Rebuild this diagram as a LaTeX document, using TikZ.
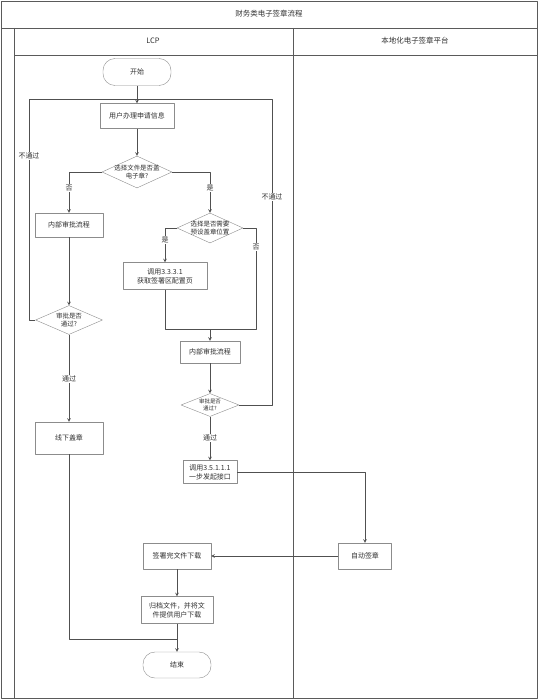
\documentclass[tikz,border=0pt]{standalone}
\usepackage{fontspec}
\setmainfont{Noto Sans CJK SC}
\usetikzlibrary{shapes.geometric}
\definecolor{framegray}{HTML}{5A5A5A}
\definecolor{boxgray}{HTML}{8C8C8C}
\definecolor{linegray}{HTML}{505050}
\definecolor{txtgray}{HTML}{303030}
\begin{document}
\begin{tikzpicture}[x=1bp,y=-1bp,>=stealth, font=\fontsize{7}{9}\selectfont, line join=round,
  box/.style={draw=boxgray, fill=white, text=txtgray, align=center, inner sep=1pt},
  term/.style={box, rounded corners=12bp},
  dec/.style={draw=boxgray, fill=white, diamond, inner sep=0pt},
  dectext/.style={text=txtgray, align=center, font=\fontsize{6.5}{8}\selectfont},
  conn/.style={draw=linegray, line width=.6pt},
  lbl/.style={fill=white, text=txtgray, inner sep=.5pt}]
\useasboundingbox (0,0) rectangle (539,700);
% pool and lanes
\draw[framegray, line width=.8pt] (1,1) rectangle (537,698);
\draw[framegray, line width=.8pt] (1,28) -- (537,28);
\draw[framegray, line width=.8pt] (14,28) -- (14,698);
\draw[framegray, line width=.8pt] (14,55) -- (537,55);
\draw[framegray, line width=.8pt] (293,28) -- (293,698);
\node[text=txtgray, font=\fontsize{7.5}{9}\selectfont] (title) at (269,14) {财务类电子签章流程};
\node[text=txtgray, font=\fontsize{7.5}{9}\selectfont] (lcp) at (153,41) {LCP};
\node[text=txtgray, font=\fontsize{7.5}{9}\selectfont] (platform) at (415,41) {本地化电子签章平台};
% nodes
\node[term, minimum width=68bp, minimum height=27bp] (start) at (137,72) {开始};
\node[box, minimum width=74bp, minimum height=25bp] (apply) at (137,116) {用户办理申请信息};
\node[dec, minimum width=70bp, minimum height=32bp, label={[dectext]center:选择文件是否盖\\电子章?}] (q1) at (137,172) {};
\node[box, minimum width=68bp, minimum height=24bp] (inner1) at (69,225) {内部审批流程};
\node[dec, minimum width=66bp, minimum height=30bp, label={[dectext]center:选择是否需要\\预设盖章位置}] (q2) at (210,228) {};
\node[box, minimum width=84bp, minimum height=27bp] (cfg) at (165,276) {调用3.3.3.1\\获取签署区配置页};
\node[box, minimum width=60bp, minimum height=22bp] (inner2) at (210,352) {内部审批流程};
\node[dec, minimum width=58bp, minimum height=23bp, label={[dectext, font=\fontsize{5.5}{6.5}\selectfont]center:审批是否\\通过?}] (q3) at (210,405) {};
\node[dec, minimum width=67bp, minimum height=29bp, label={[dectext]center:审批是否\\通过?}] (qL) at (69,320) {};
\node[box, minimum width=68bp, minimum height=32bp] (offline) at (69,438) {线下盖章};
\node[box, minimum width=54bp, minimum height=23bp] (call) at (210,472) {调用3.5.1.1.1\\一步发起接口};
\node[box, minimum width=53bp, minimum height=26bp] (auto) at (365,556) {自动签章};
\node[box, minimum width=68bp, minimum height=26bp] (down) at (177,556) {签署完文件下载};
\node[box, minimum width=72bp, minimum height=27bp] (archive) at (177,610) {归档文件，并将文\\件提供用户下载};
\node[term, minimum width=68bp, minimum height=26bp] (end) at (177,665) {结束};
\coordinate (join) at (137,99);
\coordinate (merge) at (210,329);
\coordinate (merge2) at (177,639);
% connectors
\draw[conn, ->] (start) -- (apply);
\draw[conn] (qL.west) -| (29,99) -- (join);
\draw[conn] (q3.east) -| (272,99) -- (join);
\draw[conn, ->] (apply) -- (q1);
\draw[conn, ->] (q1.west) -| (inner1.north);
\draw[conn, ->] (q1.east) -| (q2.north);
\draw[conn, ->] (q2.west) -| (cfg.north);
\draw[conn] (q2.east) -| (256,329) -- (merge);
\draw[conn] (cfg.south) |- (merge);
\draw[conn, ->] (merge) -- (inner2);
\draw[conn, ->] (inner2) -- (q3);
\draw[conn, ->] (q3) -- (call);
\draw[conn, ->] (inner1) -- (qL);
\draw[conn, ->] (qL) -- (offline);
\draw[conn, ->] (call.east) -| (auto.north);
\draw[conn, ->] (auto) -- (down);
\draw[conn, ->] (down) -- (archive);
\draw[conn, ->] (archive) -- (end);
\draw[conn] (offline.south) |- (merge2);
% labels
\node[lbl] (noL) at (29,156) {不通过};
\node[lbl] (noR) at (272,197) {不通过};
\node[lbl] (no1) at (69,188) {否};
\node[lbl] (yes1) at (210,188) {是};
\node[lbl] (yes2) at (165,240) {是};
\node[lbl] (no2) at (256,247) {否};
\node[lbl] (passL) at (69,379) {通过};
\node[lbl] (passR) at (210,438) {通过};
\end{tikzpicture}
\end{document}
